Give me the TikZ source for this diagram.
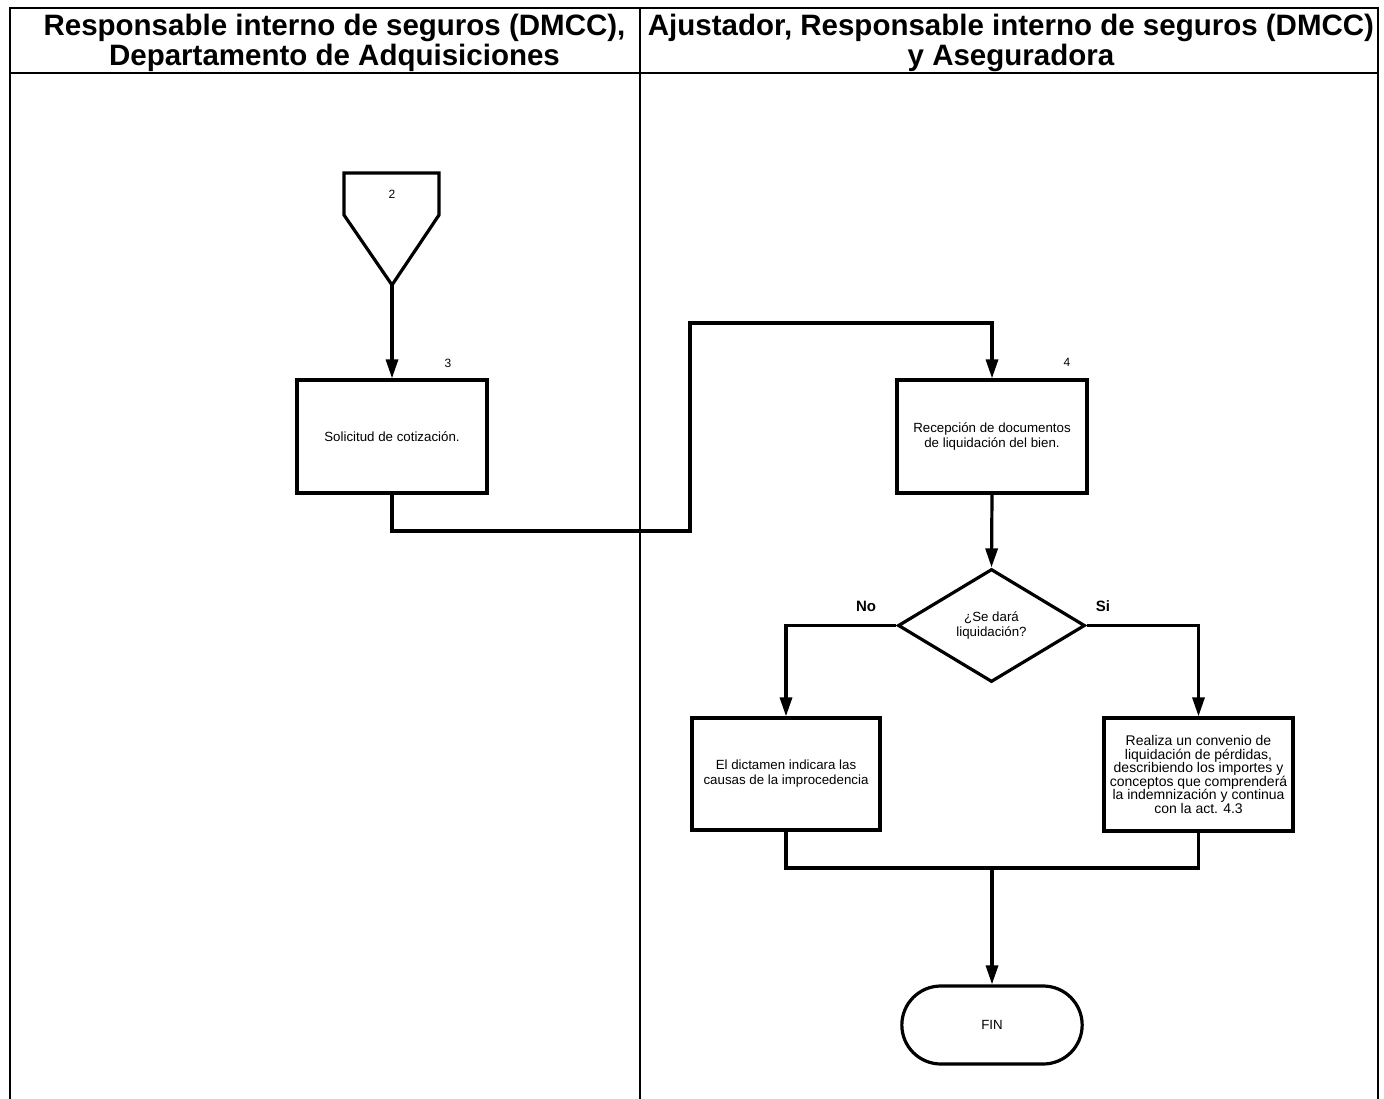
\documentclass[tikz,border=0pt]{standalone}
\usepackage{fontspec}
\setmainfont{Liberation Sans}
\usetikzlibrary{arrows.meta,shapes.geometric,shapes.misc,calc}
\begin{document}
\begin{tikzpicture}[x=1pt,y=-1pt,
  lane/.style={line width=2pt},
  flow/.style={line width=3.2pt},
  arr/.style={flow,-{Triangle[length=19pt,width=12pt]}},
  procbox/.style={draw,line width=3.2pt,minimum width=190pt,minimum height=113pt,
    align=center,font=\fontsize{13.3}{15}\selectfont,inner sep=2pt},
  decide/.style={draw,diamond,line width=3.2pt,minimum width=187pt,minimum height=113pt,
    aspect=1.65,inner sep=0pt,align=center,font=\fontsize{13.3}{14.5}\selectfont},
  term/.style={draw,rounded rectangle,line width=3.2pt,minimum width=187pt,minimum height=78pt,
    font=\fontsize{13.3}{15}\selectfont},
  numlabel/.style={font=\fontsize{12}{14}\selectfont},
  branchlabel/.style={font=\bfseries\fontsize{15}{17}\selectfont},
  headtext/.style={font=\bfseries\fontsize{29.5}{30}\selectfont,align=center}
]
\useasboundingbox (0,0) rectangle (1384,1099);
\fill[white] (0,0) rectangle (1384,1099);

% swimlane frame
\draw[lane] (9.5,1100) -- (9.5,8) -- (1378,8) -- (1378,1100);
\draw[lane] (9.5,73) -- (1378,73);
\draw[lane] (640,8) -- (640,1100);

\node[headtext] (h1) at (334.5,42.5) {Responsable interno de seguros (DMCC),\\Departamento de Adquisiciones};
\node[headtext] (h2) at (1011,42.5) {Ajustador, Responsable interno de seguros (DMCC)\\y Aseguradora};

% off-page connector 2
\draw[flow,line join=miter] (344,173) -- (439,173) -- (439,215) -- (392,285) -- (344,215) -- cycle;
\coordinate (offp) at (392,285);
\node[numlabel] (n2) at (392,194) {2};

% activity 3
\node[procbox] (a3) at (392,436.5) {Solicitud de cotización.};
\node[numlabel] (n3) at (448,363) {3};

% activity 4
\node[procbox] (a4) at (992,436.5) {Recepción de documentos\\de liquidación del bien.};
\node[numlabel] (n4) at (1067,362) {4};

% decision
\node[decide] (d) at (991.5,625.5) {¿Se dará\\liquidación?};
\node[branchlabel] (no) at (866,606) {No};
\node[branchlabel] (si) at (1103,606) {Si};

% outcomes
\node[procbox,minimum width=188pt,minimum height=112pt] (ano) at (786,774) {El dictamen indicara las\\causas de la improcedencia};
\node[procbox,minimum width=189pt,minimum height=113pt,font=\fontsize{14}{13.6}\selectfont] (asi) at (1198.5,774.5) {Realiza un convenio de\\liquidación de pérdidas,\\describiendo los importes y\\conceptos que comprenderá\\la indemnización y continua\\con la act. 4.3};

% end
\node[term] (fin) at (992,1025) {FIN};

% connectors
\coordinate (bendlow) at (690,531);
\coordinate (bendhigh) at (690,323);
\draw[arr] (offp) -- (a3.north);
\draw[arr,line join=miter] (a3.south) |- (bendlow) -- (bendhigh) -| (a4.north);
\draw[arr] (a4.south) -- (d.north);
\draw[arr,line join=miter] (d.west) -| (ano.north);
\draw[arr,line join=miter] (d.east) -| (asi.north);
\coordinate (join) at (992,868);
\draw[flow,line join=miter] (ano.south) |- (join) -| (asi.south);
\draw[arr] (join) -- (fin.north);
\end{tikzpicture}
\end{document}
